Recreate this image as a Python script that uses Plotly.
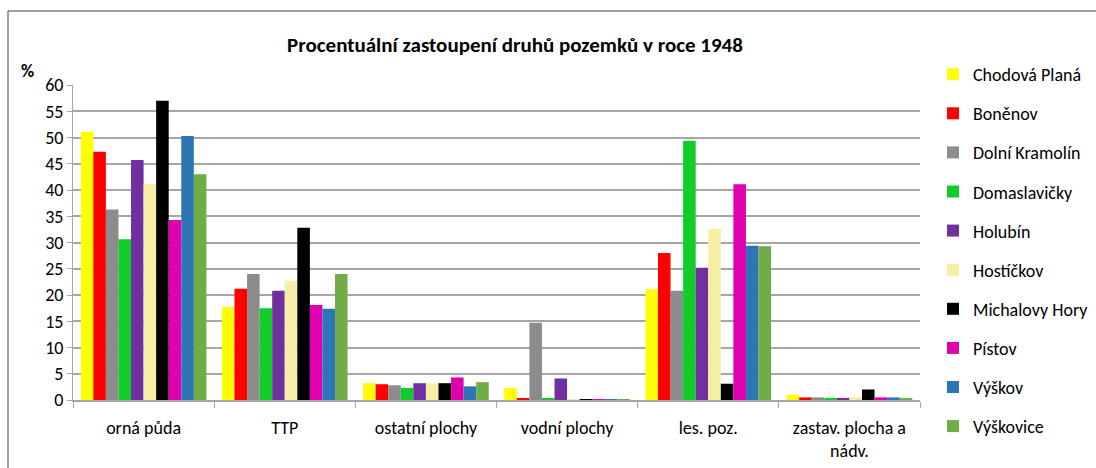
import plotly.graph_objects as go

categories = ["orná půda", "TTP", "ostatní plochy", "vodní plochy", "les. poz.", "zastav. plocha a<br>nádv."]
series_names = ["Chodová Planá", "Boněnov", "Dolní Kramolín", "Domaslavičky", "Holubín",
                "Hostíčkov", "Michalovy Hory", "Pístov", "Výškov", "Výškovice"]
colors = ["#ffff00", "#ff0000", "#8c8c8c", "#11cc2a", "#7030a0",
          "#f7eea6", "#000000", "#e000b0", "#2e75b6", "#70ad47"]

chodova_plana  = [51.1, 17.7, 3.2, 2.3, 21.1, 1.0]
bonenov        = [47.3, 21.2, 3.0, 0.3, 28.0, 0.5]
dolni_kramolin = [36.3, 24.0, 2.8, 14.7, 20.8, 0.5]
domaslavicky   = [30.6, 17.5, 2.3, 0.3, 49.4, 0.4]
holubin        = [45.7, 20.8, 3.2, 4.1, 25.2, 0.4]
hostickov      = [41.1, 22.7, 3.2, 0.1, 32.6, 0.5]
michalovy_hory = [57.0, 32.8, 3.2, 0.1, 3.1, 2.0]
pistov         = [34.3, 18.1, 4.3, 0.1, 41.1, 0.5]
vyskov         = [50.3, 17.4, 2.6, 0.1, 29.4, 0.5]
vyskovice      = [43.0, 24.0, 3.4, 0.1, 29.3, 0.4]

series_values = [chodova_plana, bonenov, dolni_kramolin, domaslavicky, holubin,
                 hostickov, michalovy_hory, pistov, vyskov, vyskovice]

FONT = "Carlito, Lato, Noto Sans, sans-serif"

W, H = 1096, 468
L, R, T, B = 73, 920, 85, 400   # plot area in pixels
PW, PH = R - L, B - T


def px(x):
    return (x - L) / PW


def py(y):
    return (B - y) / PH


fig = go.Figure()
for name, vals, col in zip(series_names, series_values, colors):
    fig.add_trace(go.Bar(
        x=categories, y=vals, name=name, legendgroup=name,
        marker=dict(color=col, line=dict(width=0)),
    ))

fig.update_layout(
    width=W, height=H,
    margin=dict(l=L, r=W - R, t=T, b=H - B, autoexpand=False),
    paper_bgcolor="white", plot_bgcolor="white",
    barmode="group", bargap=0.11, bargroupgap=0,
    font=dict(family=FONT, size=18, color="black"),
    title=dict(text="<b>Procentuální zastoupení druhů pozemků v roce 1948</b>",
               x=515 / W, xanchor="center", y=1 - 45 / H, yanchor="middle",
               font=dict(family=FONT, size=21, color="black")),
    legend=dict(x=px(933), y=py(56), xanchor="left", yanchor="top",
                traceorder="grouped", tracegroupgap=12.7, maxheight=440,
                font=dict(family=FONT, size=18, color="black"),
                bgcolor="rgba(0,0,0,0)"),
    showlegend=True,
)
fig.update_yaxes(range=[0, 60], dtick=5, showgrid=True, gridcolor="#a6a6a6", gridwidth=2,
                 showline=True, linecolor="#a6a6a6", linewidth=1,
                 ticks="outside", ticklen=5, tickcolor="#a6a6a6",
                 tickfont=dict(family=FONT, size=18, color="black"), zeroline=False)
fig.update_xaxes(showline=True, linecolor="#a6a6a6", linewidth=2,
                 ticks="outside", tickson="boundaries", ticklen=6, tickcolor="#a6a6a6",
                 ticklabelstandoff=10,
                 tickfont=dict(family=FONT, size=18, color="black"))

fig.add_annotation(text="<b>%</b>", xref="paper", yref="paper",
                   x=px(19), y=py(58), showarrow=False,
                   font=dict(family=FONT, size=18, color="black"))
fig.add_shape(type="rect", xref="paper", yref="paper",
              x0=px(8), x1=px(1200), y0=py(600), y1=py(11),
              line=dict(color="#404040", width=1), fillcolor="rgba(0,0,0,0)", layer="below")

fig.write_html("out.html", config={"displayModeBar": False},
               post_script="document.body.style.margin='0';")
